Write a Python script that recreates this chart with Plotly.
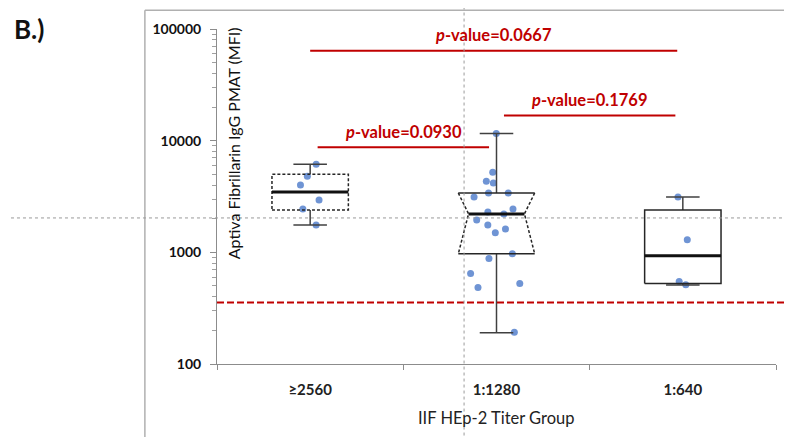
import plotly.graph_objects as go

# titer groups
groups = ["≥2560", "1:1280", "1:640"]

# individual MFI values per group
mfi_2560 = [6150, 4810, 4000, 2940, 2445, 1760]
mfi_1280 = [11600, 5220, 4340, 4170, 3400, 3400, 3130, 2450, 2300, 2210,
            1950, 1760, 1620, 1500, 970, 880, 645, 525, 485, 192]
mfi_640 = [3130, 1295, 547, 512]

# box statistics as drawn (lower whisker, q1, median, q3, upper whisker)
lower = [1760, 190, 510]
q1 = [2400, 970, 525]
median = [3470, 2210, 930]
q3 = [5000, 3400, 2400]
upper = [6150, 11600, 3130]

# pairwise comparisons (group a, group b, p-value)
comparisons = [(0, 2, "0.0667"), (1, 2, "0.1769"), (0, 1, "0.0930")]

# positive cut-off (MFI)
cutoff = 355

box_style = ["dash", "notch", "solid"]
point_jitter = [0.3, 0.9, 0.15]

RED = "#c00000"
BLUE = "#6f94d4"
DARK = "#262626"
GRAY_AX = "#8c8c8c"
FONT = "Lato"

fig = go.Figure()

half = 0.205   # half box width
cap = 0.09     # half whisker cap width
notch = 0.055  # notch inset

def seg(x, y, color=DARK, width=1.5, dash="solid"):
    fig.add_trace(go.Scatter(x=x, y=y, mode="lines", hoverinfo="skip",
                             line=dict(color=color, width=width, dash=dash),
                             showlegend=False))

for i in range(len(groups)):
    # whiskers + caps
    seg([i, i], [q3[i], upper[i]], color="#404040")
    seg([i, i], [lower[i], q1[i]], color="#404040")
    seg([i - cap, i + cap], [upper[i], upper[i]], color="#404040")
    seg([i - cap, i + cap], [lower[i], lower[i]], color="#404040")

    l, r = i - half, i + half
    if box_style[i] == "dash":
        seg([l, r, r, l, l], [q1[i], q1[i], q3[i], q3[i], q1[i]],
            dash="3px,2px", width=1.5)
        seg([l, r], [median[i], median[i]], color="#111111", width=3)
    elif box_style[i] == "notch":
        seg([l, r], [q3[i], q3[i]])
        seg([l, r], [q1[i], q1[i]])
        seg([l, l + notch, l], [q3[i], median[i], q1[i]], dash="3px,2px")
        seg([r, r - notch, r], [q3[i], median[i], q1[i]], dash="3px,2px")
        seg([l + notch, r - notch], [median[i], median[i]], color="#111111", width=3)
    else:
        seg([l, r, r, l, l], [q1[i], q1[i], q3[i], q3[i], q1[i]])
        seg([l, r], [median[i], median[i]], color="#111111", width=3)

# jittered points
for i, vals in enumerate([mfi_2560, mfi_1280, mfi_640]):
    fig.add_trace(go.Box(
        x=[i] * len(vals), y=vals, width=2 * half,
        boxpoints="all", jitter=point_jitter[i], pointpos=0,
        fillcolor="rgba(0,0,0,0)", line=dict(width=0),
        marker=dict(color=BLUE, size=7, line=dict(width=0)),
        showlegend=False, hoveron="points",
    ))

shapes = []
# cut-off line
shapes.append(dict(type="line", xref="paper", yref="y", x0=0, x1=1.03,
                   y0=cutoff, y1=cutoff, line=dict(color=RED, width=2, dash="7px,3px")))

# p-value brackets
bracket_y = [0.935, 0.742, 0.647]
annotations = []
for (a, b, p), yy in zip(comparisons, bracket_y):
    x0 = a + (0.0 if b - a == 2 else 0.04)
    x1 = b - 0.03 if b - a == 2 else b - 0.04
    shapes.append(dict(type="line", xref="x", yref="paper", x0=x0, x1=x1,
                       y0=yy, y1=yy, line=dict(color=RED, width=2)))
    annotations.append(dict(xref="x", yref="paper", x=(x0 + x1) / 2, y=yy + 0.01,
                            yanchor="bottom", xanchor="center", showarrow=False,
                            text="<b><i>p</i>-value=%s</b>" % p,
                            font=dict(family=FONT, size=16.5, color=RED)))

# screenshot frame and guide lines
shapes.append(dict(type="line", xref="paper", yref="paper", x0=-0.129, x1=1.03,
                   y0=1.056, y1=1.056, line=dict(color="#b0b0b0", width=1.5)))
shapes.append(dict(type="line", xref="paper", yref="paper", x0=-0.129, x1=-0.129,
                   y0=1.056, y1=-0.22, line=dict(color="#b0b0b0", width=1.5)))
shapes.append(dict(type="line", xref="paper", yref="paper", x0=0.442, x1=0.442,
                   y0=1.085, y1=-0.22, line=dict(color="#9a9a9a", width=1, dash="3px,3px")))
shapes.append(dict(type="line", xref="paper", yref="paper", x0=-0.39, x1=1.03,
                   y0=0.436, y1=0.436, line=dict(color="#9a9a9a", width=1, dash="3px,3px")))

annotations.append(dict(xref="paper", yref="paper", x=0.0286, y=0.659,
                        xanchor="center", yanchor="middle",
                        text="Aptiva Fibrillarin IgG PMAT (MFI)", textangle=-90,
                        showarrow=False, font=dict(family=FONT, size=16, color="#111111")))
annotations.append(dict(xref="paper", yref="paper", x=0.5, y=-0.16,
                        xanchor="center", yanchor="middle",
                        text="IIF HEp-2 Titer Group", showarrow=False,
                        font=dict(family=FONT, size=16.5, color="#222222")))
annotations.append(dict(xref="paper", yref="paper", x=-0.367, y=1.0,
                        xanchor="left", yanchor="middle",
                        text="<b>B.)</b>", showarrow=False,
                        font=dict(family=FONT, size=26, color="#111111")))

# page body has an 8px margin: shrink figure so the plot lands where the reference has it
fig.update_layout(
    width=784, height=429,
    margin=dict(l=209, r=16, t=19, b=73),
    plot_bgcolor="white", paper_bgcolor="white",
    shapes=shapes, annotations=annotations,
    xaxis=dict(range=[-0.5, 2.5], tickvals=[0, 1, 2], ticktext=groups,
               ticks="outside", ticklen=0, showline=True, linecolor=GRAY_AX,
               linewidth=1, showgrid=False, zeroline=False,
               tickfont=dict(family=FONT, size=15, color="#222222", weight="bold"),
               ticklabelstandoff=12,
               minor=dict(tickvals=[-0.5, 0.5, 1.5, 2.5], ticks="outside",
                          ticklen=5, tickcolor=GRAY_AX, showgrid=False)),
    yaxis=dict(type="log", range=[2, 5], dtick=1, tickformat="d",
               ticks="outside", ticklen=6, tickcolor=GRAY_AX,
               showline=True, linecolor=GRAY_AX, linewidth=1,
               showgrid=False, zeroline=False,
               tickfont=dict(family=FONT, size=14, color="#111111", weight="bold"),
               ticklabelstandoff=6,
               minor=dict(dtick="D1", ticks="outside", ticklen=4,
                          tickcolor="#a0a0a0", showgrid=False)),
)

fig.write_html("out.html")
